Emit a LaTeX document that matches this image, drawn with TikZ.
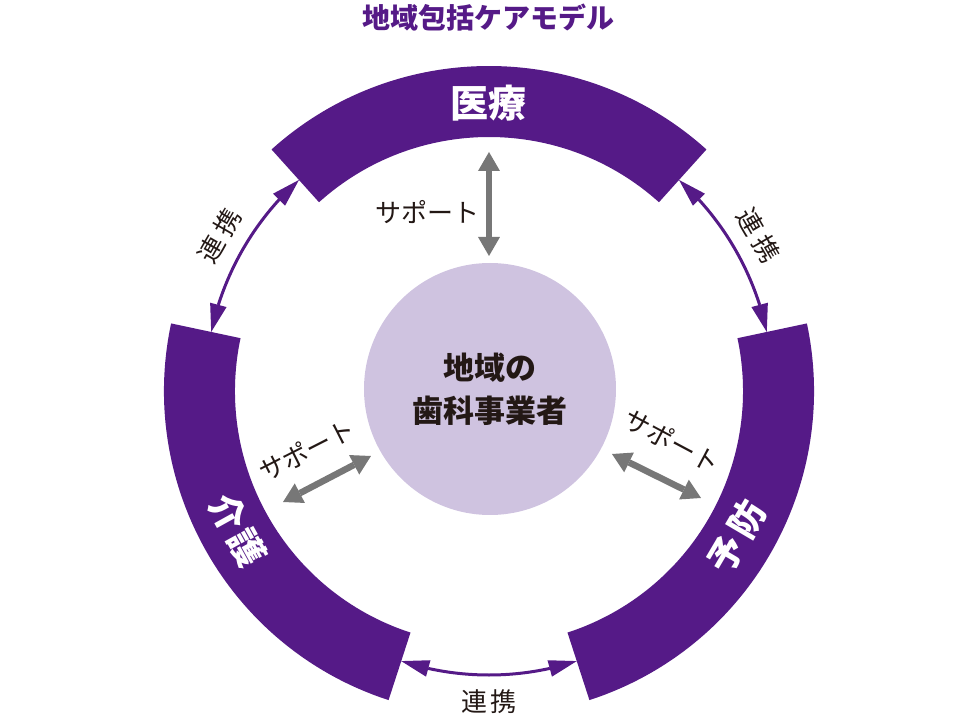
\documentclass[tikz,border=0pt]{standalone}
\usepackage{fontspec}
\setmainfont{Noto Sans CJK JP}
\usetikzlibrary{arrows.meta,bending}
\definecolor{bandpurple}{HTML}{551A87}
\definecolor{hubfill}{HTML}{CFC3E0}
\definecolor{inkcol}{HTML}{231815}
\definecolor{supportgray}{HTML}{777777}
\begin{document}
\begin{tikzpicture}[x=1pt,y=1pt,
  band/.style={fill=bandpurple},
  bandlabel/.style={text=white,font=\fontsize{36}{36}\selectfont\bfseries,inner sep=0pt},
  link/.style={draw=bandpurple,line width=3pt,
    {Triangle[length=28pt,width=17pt,line width=0pt]}-{Triangle[length=28pt,width=17pt,line width=0pt]}},
  linklabel/.style={text=inkcol,font=\fontsize{26}{26}\selectfont,inner sep=0pt},
  support/.style={draw=supportgray,line width=6.5pt,
    {Triangle[length=19pt,width=22pt,line width=0pt]}-{Triangle[length=19pt,width=22pt,line width=0pt]}},
  supportlabel/.style={text=inkcol,font=\fontsize{26}{26}\selectfont,inner sep=0pt},
]
\useasboundingbox (-489,-329) rectangle (486,391);

% title
\node[font=\fontsize{28}{28}\selectfont\bfseries,text=bandpurple,inner sep=0pt] (title) at (0,373) {地域包括ケアモデル};

% bands
\fill[band] (48:254) arc[start angle=48,end angle=132,radius=254pt] -- (132:325) arc[start angle=132,end angle=48,radius=325pt] -- cycle;
\fill[band] (168:254) arc[start angle=168,end angle=252,radius=254pt] -- (252:325) arc[start angle=252,end angle=168,radius=325pt] -- cycle;
\fill[band] (288:254) arc[start angle=288,end angle=372,radius=254pt] -- (372:325) arc[start angle=372,end angle=288,radius=325pt] -- cycle;

\node[bandlabel,font=\fontsize{38}{38}\selectfont\bfseries] (iryo) at (90:288) {医療};
\node[bandlabel,rotate=-61] (kaigo) at (209:287) {介\hspace{4pt}護};
\node[bandlabel,rotate=59.5] (yobo) at (329.5:287) {予\hspace{4pt}防};

% hub
\node[circle,fill=hubfill,minimum size=252pt,inner sep=0pt,align=center,text=inkcol,
  font=\fontsize{31}{43}\selectfont\bfseries] (hub) at (1,2) {地域の\\歯科事業者};

% links between bands
\coordinate (l1a) at (168:284);
\coordinate (l2a) at (48:284);
\coordinate (l3a) at (252:284);
\draw[link] (l1a) arc[start angle=168,end angle=132,radius=284pt];
\draw[link] (l2a) arc[start angle=48,end angle=12,radius=284pt];
\draw[link] (l3a) arc[start angle=252,end angle=288,radius=284pt];

\node[linklabel,rotate=60] (ll) at (150:311) {連\hspace{5pt}携};
\node[linklabel,rotate=-60] (lr) at (30:311) {連\hspace{5pt}携};
\node[linklabel] (lb) at (270:311) {連\hspace{3pt}携};

% support arrows
\coordinate (s1a) at (0,239);   \coordinate (s1b) at (0,135);
\coordinate (s2a) at (-206,-111); \coordinate (s2b) at (-118,-65);
\coordinate (s3a) at (123,-63); \coordinate (s3b) at (212,-107);
\draw[support] (s1a) -- (s1b);
\draw[support] (s2a) -- (s2b);
\draw[support] (s3a) -- (s3b);

\node[supportlabel] (sl1) at (-61,179) {サポート};
\node[supportlabel,rotate=27] (sl2) at (-182,-59) {サポート};
\node[supportlabel,rotate=-28] (sl3) at (183,-50) {サポート};
\end{tikzpicture}
\end{document}
